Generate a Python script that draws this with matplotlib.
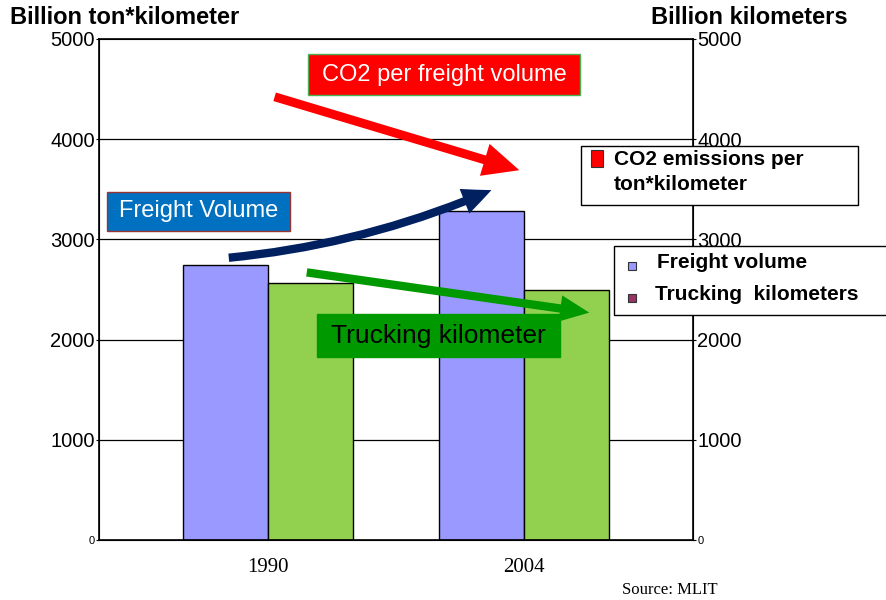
import numpy as np
import matplotlib
matplotlib.use("Agg")
import matplotlib.pyplot as plt
from matplotlib.patches import Rectangle, FancyArrowPatch

# data
years = ["1990", "2004"]
freight_volume = [2745, 3283]   # billion ton*km
trucking_km = [2565, 2495]      # billion km
yticks = [0, 1000, 2000, 3000, 4000, 5000]

W, H = 887, 600
plt.rcParams['font.family'] = ['Liberation Sans', 'DejaVu Sans']

fig = plt.figure(figsize=(W/100, H/100), dpi=100)

def fp(x, y):
    # pixel position (top-left origin) -> figure fraction
    return (x / W, 1 - y / H)

ax = fig.add_axes([99/W, 60/H, (693-99)/W, (540-39)/H])
x = np.arange(len(years))
bw = 0.332
ax.bar(x - bw/2, freight_volume, bw, color="#9999FF", edgecolor="black",
       linewidth=1, zorder=2)
ax.bar(x + bw/2, trucking_km, bw, color="#92D050", edgecolor="black",
       linewidth=1, zorder=2)
ax.set_xlim(-0.66, 1.66)
ax.set_ylim(0, 5000)
ax.set_yticks(yticks)
ax.set_yticklabels([str(v) for v in yticks], fontsize=14.5)
ax.get_yticklabels()[0].set_fontsize(8)
ax.set_xticks(x)
ax.set_xticklabels(years, family=['Liberation Serif'], fontsize=15)
ax.tick_params(axis='x', length=0, pad=13)
ax.tick_params(axis='y', length=2, pad=1)
for v in yticks[1:-1]:
    ax.axhline(v, color="black", lw=0.9, zorder=1)
for s in ax.spines.values():
    s.set_linewidth(1.2)

ax2 = ax.twinx()
ax2.set_ylim(0, 5000)
ax2.set_yticks(yticks)
ax2.set_yticklabels([str(v) for v in yticks], fontsize=14.5)
ax2.get_yticklabels()[0].set_fontsize(8)
ax2.tick_params(axis='y', length=2, pad=1)

fig.text(10/W, 1 - 18/H, "Billion ton*kilometer", fontsize=17, fontweight="bold",
         va="center", ha="left")
fig.text(848/W, 1 - 18/H, "Billion kilometers", fontsize=17, fontweight="bold",
         va="center", ha="right")
fig.text(670/W, 1 - 590/H, "Source: MLIT", family=['Liberation Serif'], fontsize=12,
         va="center", ha="center")

# arrows
arrows = [
    ((272, 96), (522, 171), "#FF0000", 0.0, (0.32, 1.2, 1.3)),
    ((226, 258), (494, 189), "#002060", 0.08, (0.3, 0.95, 1.05)),
    ((304, 272), (592, 313), "#009900", 0.0, (0.3, 0.95, 1.05)),
]
for (p0, p1, col, rad, (tw, hw, hl)) in arrows:
    a = FancyArrowPatch(fp(*p0), fp(*p1), transform=fig.transFigure,
                        arrowstyle=f"simple,tail_width={tw},head_width={hw},head_length={hl}",
                        mutation_scale=20, color=col, lw=0,
                        connectionstyle=f"arc3,rad={rad}", zorder=5)
    fig.add_artist(a)

# labelled boxes
def box(x0, y0, x1, y1, face, edge, text, tcol, size):
    (fx0, fy1), (fx1, fy0) = fp(x0, y0), fp(x1, y1)
    fig.add_artist(Rectangle((fx0, fy0), fx1 - fx0, fy1 - fy0, transform=fig.transFigure,
                             facecolor=face, edgecolor=edge, lw=1, zorder=6))
    fig.text((fx0 + fx1)/2, (fy0 + fy1)/2, text, color=tcol, fontsize=size,
             ha="center", va="center", zorder=7)

box(308, 54, 580, 95, "#FF0000", "#4CAF50", "CO2 per freight volume", "white", 17)
box(107, 192, 290, 231, "#0070C0", "#993333", "Freight Volume", "white", 17)
box(317, 314, 560, 357, "#009900", "#009900", "Trucking kilometer", "black", 19)

# legends drawn by hand
def frame(x0, y0, x1, y1):
    (fx0, fy1), (fx1, fy0) = fp(x0, y0), fp(x1, y1)
    fig.add_artist(Rectangle((fx0, fy0), fx1 - fx0, fy1 - fy0, transform=fig.transFigure,
                             facecolor="white", edgecolor="black", lw=1, zorder=6))

def swatch(x0, y0, w, h, col):
    fx, fy = fp(x0, y0 + h)
    fig.add_artist(Rectangle((fx, fy), w/W, h/H, transform=fig.transFigure,
                             facecolor=col, edgecolor="#333333", lw=0.8, zorder=7))

frame(581, 146, 858, 205)
swatch(591, 150, 12, 17, "#FF0000")
fig.text(614/W, 1 - 160/H, "CO2 emissions per", fontsize=15, fontweight="bold",
         va="center", zorder=7)
fig.text(614/W, 1 - 185/H, "ton*kilometer", fontsize=15, fontweight="bold",
         va="center", zorder=7)

frame(614, 246, 890, 315)
swatch(628, 262, 8, 8, "#9999FF")
swatch(628, 294, 8, 8, "#993366")
fig.text(657/W, 1 - 262/H, "Freight volume", fontsize=15, fontweight="bold",
         va="center", zorder=7)
fig.text(655/W, 1 - 294/H, "Trucking  kilometers", fontsize=15, fontweight="bold",
         va="center", zorder=7)

fig.savefig("out.png", dpi=100)
